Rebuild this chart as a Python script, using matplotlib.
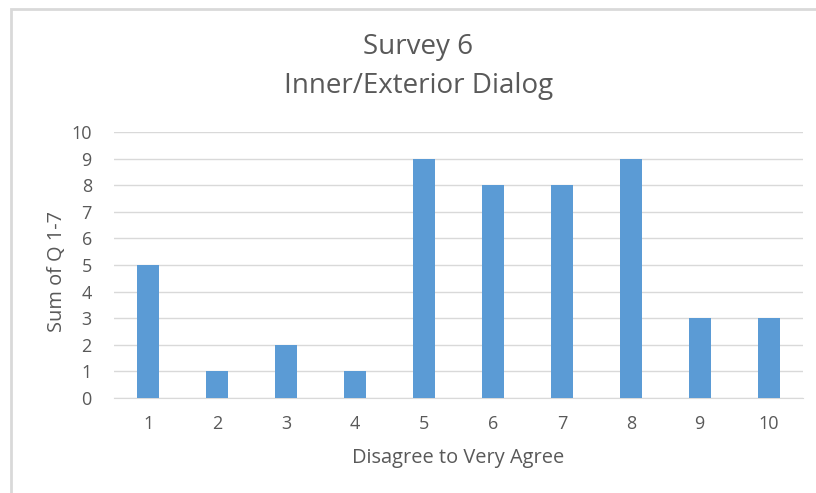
import matplotlib
matplotlib.use("Agg")
import matplotlib.pyplot as plt
from matplotlib.patches import Rectangle

categories = ["1", "2", "3", "4", "5", "6", "7", "8", "9", "10"]
values = [5, 1, 2, 1, 9, 8, 8, 9, 3, 3]
y_ticks = list(range(0, 11))

W, H = 816, 493
plt.rcParams["font.family"] = ["Open Sans", "DejaVu Sans"]
text_color = "#595959"
bar_color = "#5b9bd5"
grid_color = "#d9d9d9"

fig = plt.figure(figsize=(W / 100, H / 100), dpi=100)

# chart area frame (extends past the right and bottom edges)
fig.patches.append(Rectangle((11 / W, -0.05), 1.2, 1 - 9 / H + 0.05,
                             transform=fig.transFigure, fill=False,
                             edgecolor="#d9d9d9", linewidth=2))

left, right = 114 / W, 803 / W
bottom, top = 1 - 398 / H, 1 - 132 / H
ax = fig.add_axes([left, bottom, right - left, top - bottom])

x = list(range(len(categories)))
ax.bar(x, values, width=0.32, color=bar_color, zorder=3)
ax.set_xlim(-0.5, len(categories) - 0.5)
ax.set_ylim(0, 10)
ax.set_yticks(y_ticks)
ax.set_xticks(x)
ax.set_xticklabels(categories)
ax.yaxis.grid(True, color=grid_color, linewidth=1, zorder=0)
for s in ["top", "right", "left"]:
    ax.spines[s].set_visible(False)
ax.spines["bottom"].set_color(grid_color)
ax.tick_params(axis="both", length=0, colors=text_color, labelsize=13)
ax.tick_params(axis="x", pad=12)
ax.tick_params(axis="y", pad=16)

ax.set_xlabel("Disagree to Very Agree", color=text_color, fontsize=14.4, labelpad=11)
ax.set_ylabel("Sum of Q 1-7", color=text_color, fontsize=14.4, va="center")
ax.yaxis.set_label_coords(-0.083, 0.474)

fig.text(418 / W, 1 - 47 / H, "Survey 6", ha="center", va="center",
         color=text_color, fontsize=20)
fig.text(419 / W, 1 - 86 / H, "Inner/Exterior Dialog", ha="center", va="center",
         color=text_color, fontsize=20)

fig.savefig("out.png", dpi=100)
